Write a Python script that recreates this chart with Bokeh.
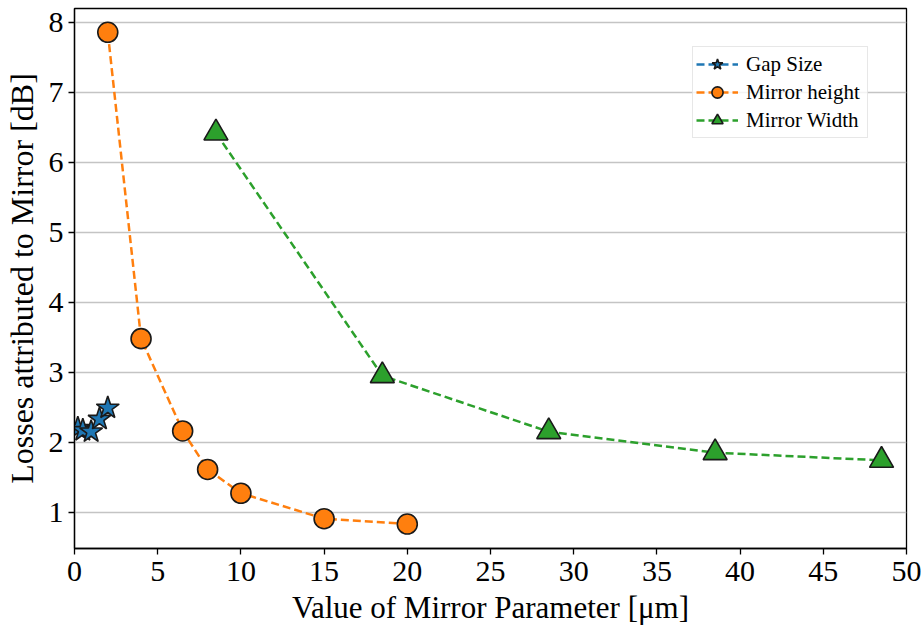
from bokeh.plotting import figure
from bokeh.models import Range1d, FixedTicker, Legend
from bokeh.embed import file_html
from bokeh.resources import INLINE

# Losses attributed to the mirror versus each swept mirror parameter
gap_x = [0.2, 0.5, 1.0, 1.5, 2.0]
gap_y = [2.20, 2.17, 2.15, 2.33, 2.49]

height_x = [2.0, 4.0, 6.5, 8.0, 10.0, 15.0, 20.0]
height_y = [7.86, 3.48, 2.16, 1.61, 1.27, 0.906, 0.83]

width_x = [8.5, 18.5, 28.5, 38.5, 48.5]
width_y = [6.42, 2.95, 2.15, 1.85, 1.74]

x_ticks = [0, 5, 10, 15, 20, 25, 30, 35, 40, 45, 50]
y_ticks = [1, 2, 3, 4, 5, 6, 7, 8]

FONT = "Liberation Serif"
BLUE, ORANGE, GREEN = "#1f77b4", "#ff7f0e", "#2ca02c"

p = figure(width=923, height=627, output_backend="svg", toolbar_location=None,
           x_range=Range1d(0, 50), y_range=Range1d(0.48, 8.2))
p.min_border_left = 74
p.min_border_right = 17
p.min_border_top = 8
p.min_border_bottom = 79

p.outline_line_color = "black"
p.outline_line_width = 1.3
p.outline_line_alpha = 1.0
p.background_fill_color = "white"
p.border_fill_color = "white"

p.xgrid.grid_line_color = None
p.ygrid.grid_line_color = "#c4c4c4"
p.ygrid.grid_line_width = 1.5

for ax in (p.xaxis[0], p.yaxis[0]):
    ax.axis_line_color = "black"
    ax.axis_line_width = 1.3
    ax.major_tick_line_color = "black"
    ax.major_tick_line_width = 1.3
    ax.major_tick_out = 6
    ax.major_tick_in = 0
    ax.minor_tick_line_color = None
    ax.major_label_text_font = FONT
    ax.major_label_text_font_size = "30px"
    ax.major_label_text_color = "black"
    ax.axis_label_text_font = FONT
    ax.axis_label_text_font_style = "normal"
    ax.axis_label_text_color = "black"

p.xaxis.axis_label_text_font_size = "31px"
p.yaxis.axis_label_text_font_size = "32px"
p.xaxis.ticker = FixedTicker(ticks=x_ticks)
p.yaxis.ticker = FixedTicker(ticks=y_ticks)
p.xaxis.axis_label = "Value of Mirror Parameter [μm]"
p.yaxis.axis_label = "Losses attributed to Mirror [dB]"
p.xaxis.major_label_standoff = 7
p.yaxis.major_label_standoff = 5
p.xaxis.axis_label_standoff = 6
p.yaxis.axis_label_standoff = 6

series = [
    ("Gap Size", gap_x, gap_y, BLUE, "star", 24),
    ("Mirror height", height_x, height_y, ORANGE, "circle", 20),
    ("Mirror Width", width_x, width_y, GREEN, "triangle", 24),
]

items = []
for name, xs, ys, color, marker, size in series:
    ln = p.line(xs, ys, line_color=color, line_width=2.5, line_dash="8 4")
    sc = p.scatter(xs, ys, marker=marker, size=size, fill_color=color,
                   line_color="#1a1a1a", line_width=1.6)
    items.append((name, [ln, sc]))

legend = Legend(items=items, location=(618, 410))
legend.label_text_font = FONT
legend.label_text_font_size = "21px"
legend.label_text_color = "black"
legend.border_line_color = "#d0d0d0"
legend.border_line_width = 1.2
legend.background_fill_color = "white"
legend.background_fill_alpha = 0.8
legend.glyph_width = 42
legend.glyph_height = 28
legend.label_height = 28
legend.label_width = 118
legend.label_standoff = 8
legend.spacing = 0
legend.padding = 3
legend.margin = 0
p.add_layout(legend)

open("out.html", "w").write(file_html(p, INLINE))
